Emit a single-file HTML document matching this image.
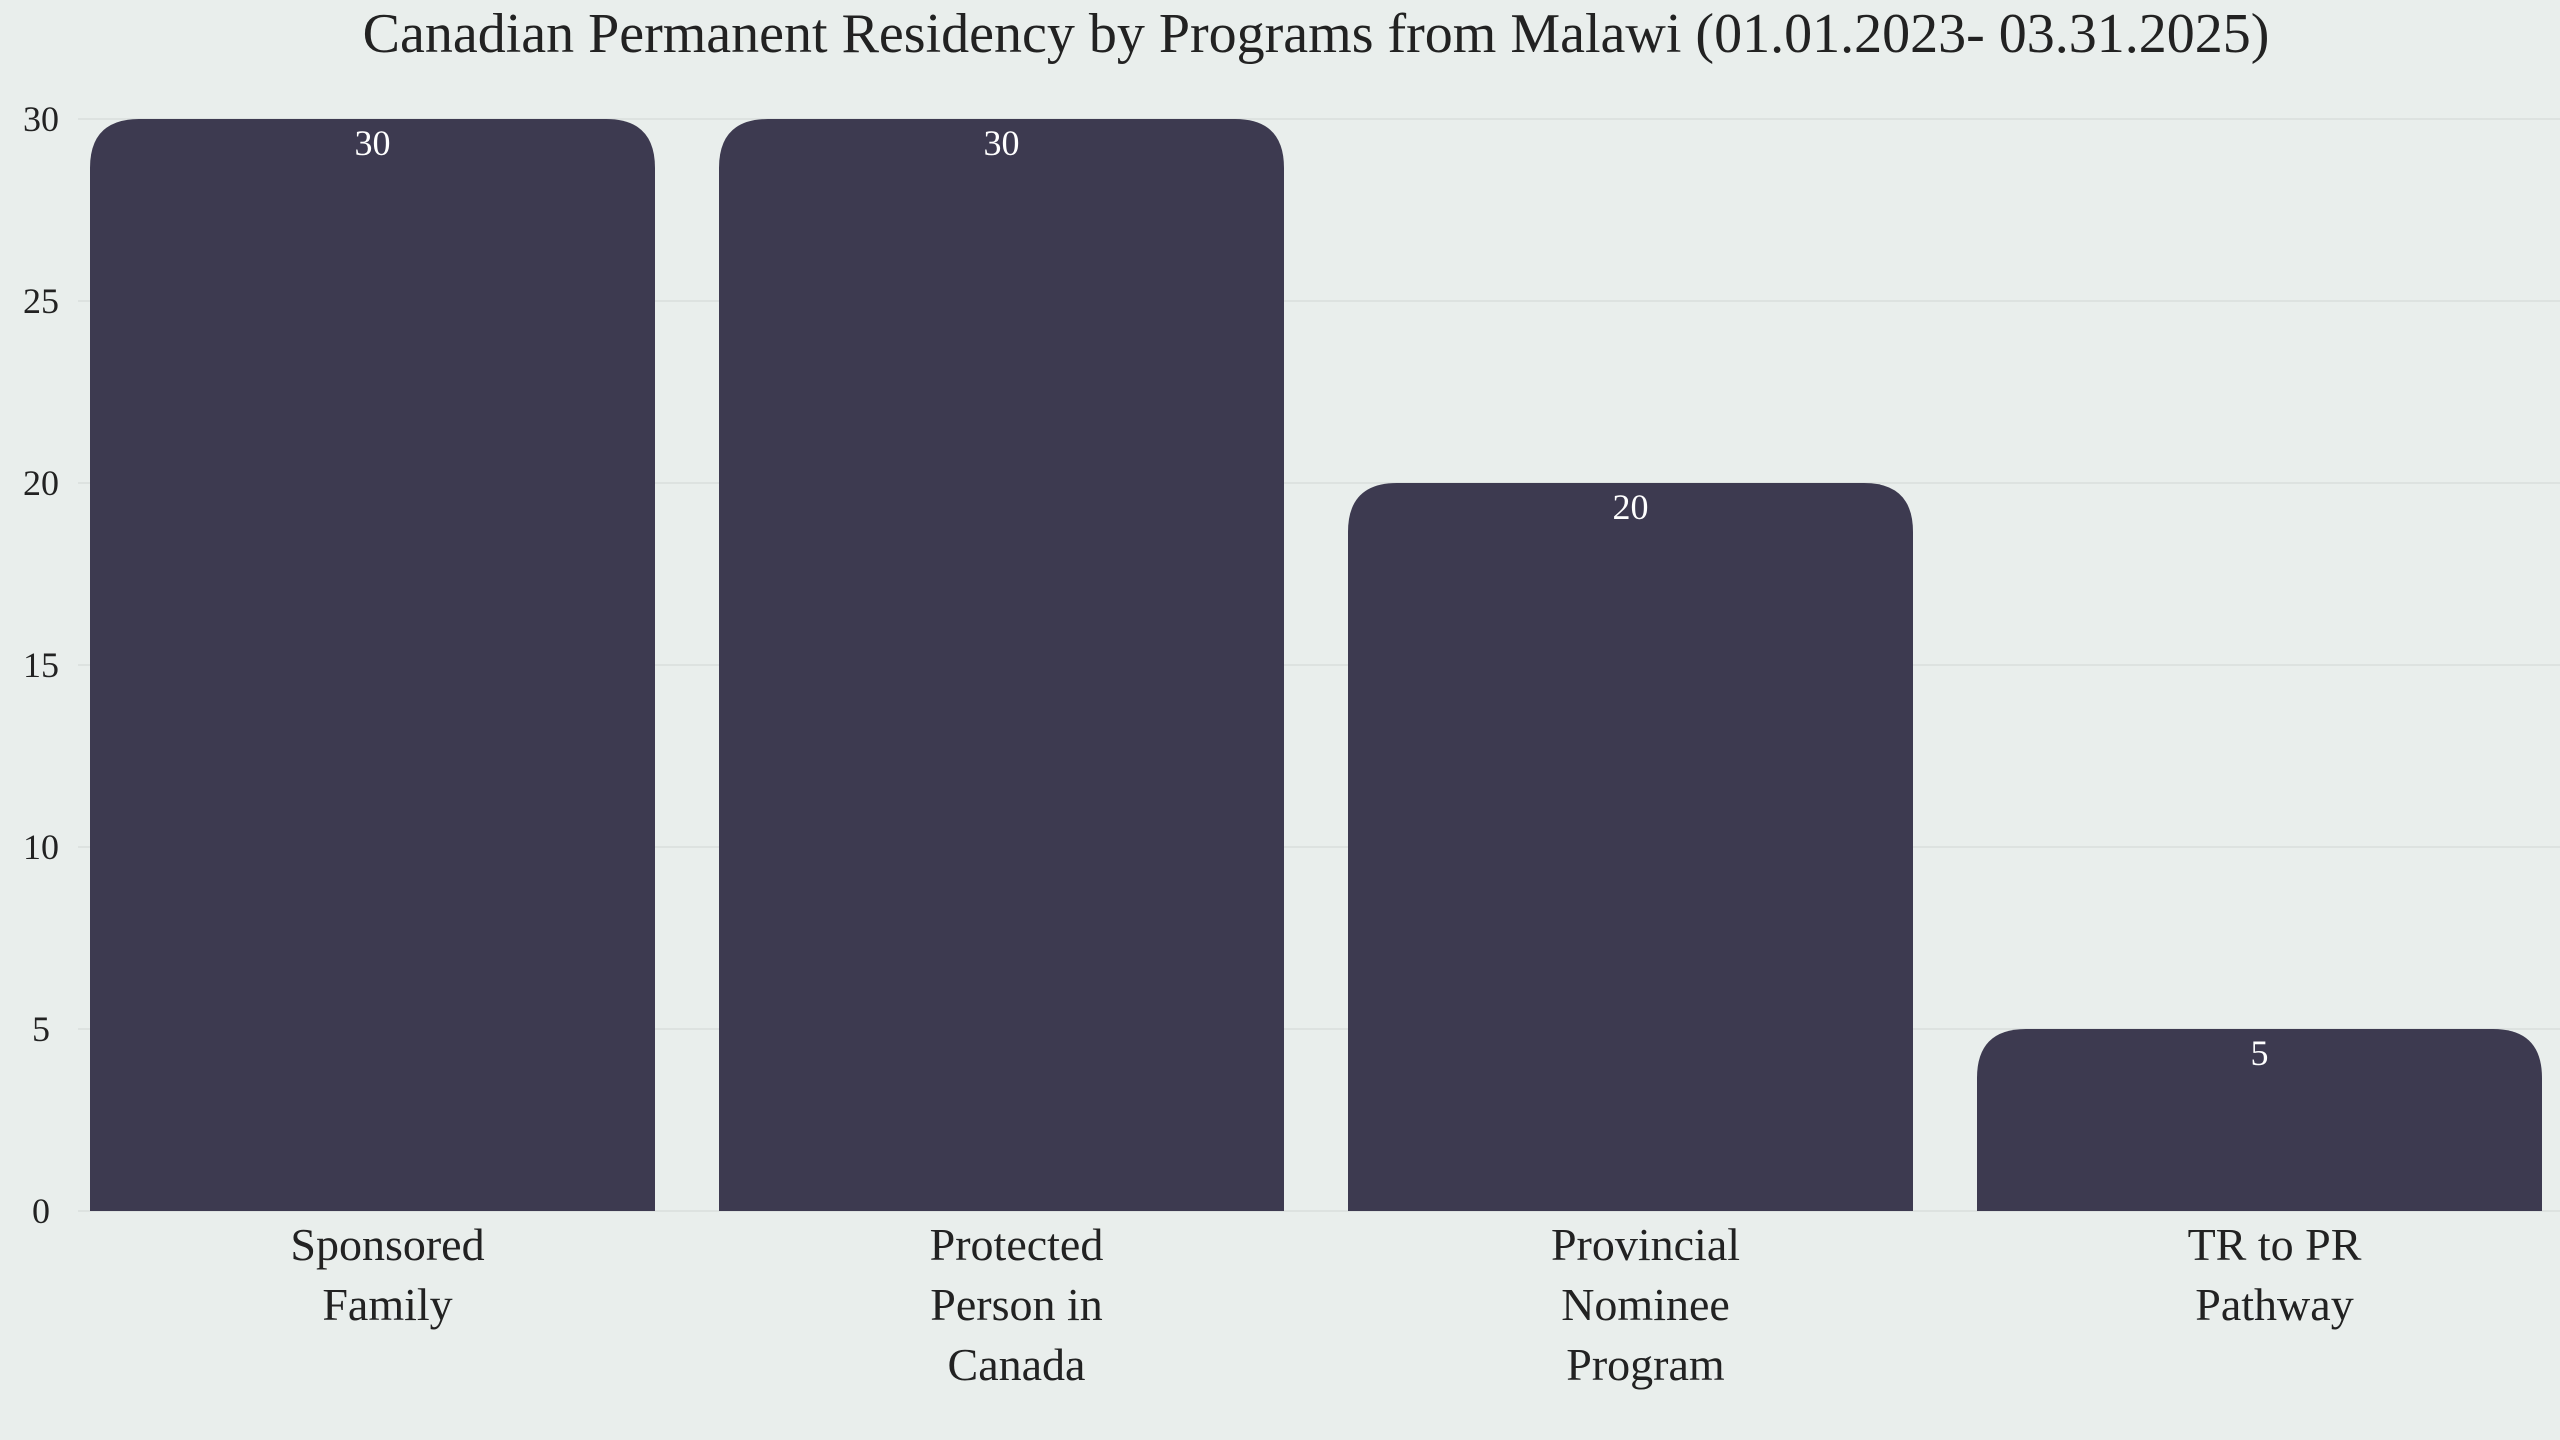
<!DOCTYPE html>
<html><head><meta charset="utf-8"><style>
html,body{margin:0;padding:0;background:#e9eeec;}
svg{display:block;font-family:"Liberation Serif",serif;}
</style></head><body>
<svg id="chart" width="2560" height="1440" viewBox="0 0 2560 1440" xmlns="http://www.w3.org/2000/svg">
<rect width="2560" height="1440" fill="#e9eeec"/>
<text x="1316" y="52" text-anchor="middle" font-size="56" fill="#222">Canadian Permanent Residency by Programs from Malawi (01.01.2023- 03.31.2025)</text>
<g id="grid"></g><g id="bars"></g><g id="labels"></g>
</svg>
<script>
const categories = [["Sponsored","Family"],["Protected","Person in","Canada"],["Provincial","Nominee","Program"],["TR to PR","Pathway"]];
const values = [30,30,20,5];
const yTicks = [0,5,10,15,20,25,30];
const NS="http://www.w3.org/2000/svg";
const x0=58, band=629, pad=32, yBase=1211, yTop=119, yMax=30;
const y=v=>yBase-(yBase-yTop)*v/yMax;
const xb=i=>x0+i*band+pad;
const bw=band-2*pad;
function mk(t,a,p){const e=document.createElementNS(NS,t);for(const k in a)e.setAttribute(k,a[k]);p.appendChild(e);return e;}
const grid=document.getElementById('grid'),bars=document.getElementById('bars'),labels=document.getElementById('labels');
yTicks.forEach(t=>{
  const l=mk('line',{x1:x0+20,x2:2560,y1:y(t),y2:y(t),stroke:'#dde2e0','stroke-width':2},grid);
  
  
  const tx=mk('text',{x:41,y:y(t)+12,'text-anchor':'middle','font-size':36,fill:'#222'},grid);
  tx.textContent=t;
  
  
});
values.forEach((v,i)=>{
  const x=xb(i),top=y(v),r=Math.min(49,(yBase-top)/2);
  const d=`M${x},${yBase} L${x},${top+r} Q${x},${top} ${x+r},${top} L${x+bw-r},${top} Q${x+bw},${top} ${x+bw},${top+r} L${x+bw},${yBase} Z`;
  const p=mk('path',{d:d,fill:'#3d3a50'},bars);
  
  
  const t=mk('text',{x:x+bw/2,y:top+36,'text-anchor':'middle','font-size':36,fill:'#fff'},labels);
  t.textContent=v;
  
  
  const g=mk('text',{x:x+bw/2+15,y:1260,'text-anchor':'middle','font-size':46,fill:'#222'},labels);
  
  
  categories[i].forEach((s,j)=>{const ts=mk('tspan',{x:x+bw/2+15,dy:j?60:0},g);ts.textContent=s;});
});
</script>
</body></html>
